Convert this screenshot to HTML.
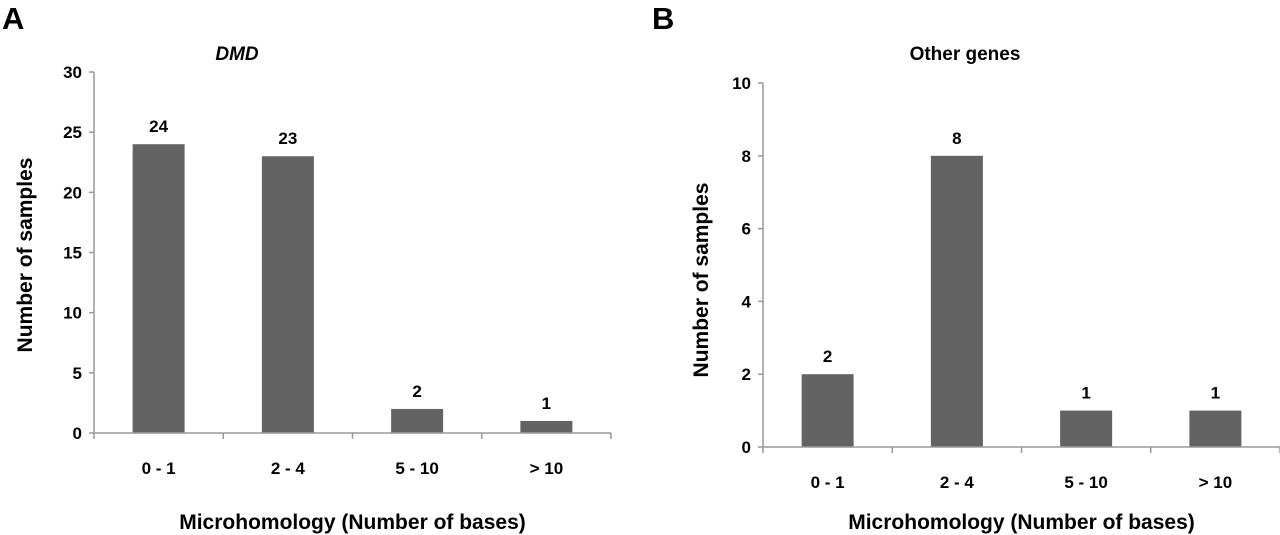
<!DOCTYPE html>
<html><head><meta charset="utf-8"><style>
body{margin:0;background:#fff}
svg{display:block;font-family:"Liberation Sans",Arial,sans-serif;font-weight:bold}
</style></head><body>
<svg id="chart" width="1280" height="535" viewBox="0 0 1280 535"></svg>
<script>
const categories = ["0 - 1","2 - 4","5 - 10","> 10"];
const valuesA = [24,23,2,1];
const valuesB = [2,8,1,1];
const ticksA = [0,5,10,15,20,25,30];
const ticksB = [0,2,4,6,8,10];

const NS="http://www.w3.org/2000/svg";
const svg=document.getElementById('chart');
function mk(tag,attrs,parent,text){const e=document.createElementNS(NS,tag);for(const k in attrs)e.setAttribute(k,attrs[k]);if(text!==undefined)e.textContent=text;(parent||svg).appendChild(e);return e;}

function panel(cfg){
  const g=mk('g',{});
  
  
  const y=v=>cfg.y0-(v/cfg.max)*(cfg.y0-cfg.y1);
  const cw=(cfg.x1-cfg.x0)/cfg.cats.length;
  const x=i=>cfg.x0+cw*(i+0.5);
  const L=mk('text',{x:cfg.letterX,y:29,'font-size':31,fill:'#000'},g,cfg.letter);
  
  
  const T=mk('text',{x:cfg.titleX,y:cfg.titleY,'font-size':19,'text-anchor':'middle','font-style':cfg.italic?'italic':'normal'},g,cfg.title);
  
  
  cfg.vals.forEach((v,i)=>{
    const b=mk('rect',{x:x(i)-26,y:y(v),width:52,height:cfg.y0-y(v),fill:'#636363'},g);
    
    
    const t=mk('text',{x:x(i),y:y(v)-12,'font-size':17,'text-anchor':'middle'},g,String(v));
    
    
  });
  const ya=mk('line',{x1:cfg.x0,y1:y(cfg.max),x2:cfg.x0,y2:cfg.y0,stroke:'#999','stroke-width':1.5},g);
  
  
  const xa=mk('line',{x1:cfg.x0,y1:cfg.y0,x2:cfg.x1,y2:cfg.y0,stroke:'#999','stroke-width':1.5},g);
  
  
  cfg.ticks.forEach(t=>{
    mk('line',{x1:cfg.x0-5,y1:y(t),x2:cfg.x0,y2:y(t),stroke:'#999','stroke-width':1.5},g);
    const tl=mk('text',{x:cfg.x0-12,y:y(t)+6,'font-size':17,'text-anchor':'end'},g,String(t));
    
    
  });
  for(let i=0;i<=cfg.cats.length;i++){
    mk('line',{x1:cfg.x0+cw*i,y1:cfg.y0,x2:cfg.x0+cw*i,y2:cfg.y0+6,stroke:'#999','stroke-width':1.5},g);
  }
  cfg.cats.forEach((c,i)=>{
    const tl=mk('text',{x:x(i),y:cfg.y0+41,'font-size':17,'text-anchor':'middle'},g,c);
    
    
  });
  const xt=mk('text',{x:(cfg.x0+cfg.x1)/2,y:529,'font-size':21,'text-anchor':'middle'},g,'Microhomology (Number of bases)');
  
  
  const yt=mk('text',{x:0,y:0,'font-size':21,'text-anchor':'middle',transform:`translate(${cfg.ytX},${cfg.ytY}) rotate(-90)`},g,'Number of samples');
  
  
}
panel({name:'panel-a-dmd',letter:'A',letterX:2,title:'DMD',italic:true,titleX:237,titleY:60,
  cats:categories,vals:valuesA,ticks:ticksA,max:30,x0:94,x1:611,y0:433,y1:72,ytX:32,ytY:255});
panel({name:'panel-b-other-genes',letter:'B',letterX:652,title:'Other genes',italic:false,titleX:965,titleY:60,
  cats:categories,vals:valuesB,ticks:ticksB,max:10,x0:763,x1:1280,y0:447,y1:83,ytX:708,ytY:280});
</script>
</body></html>
